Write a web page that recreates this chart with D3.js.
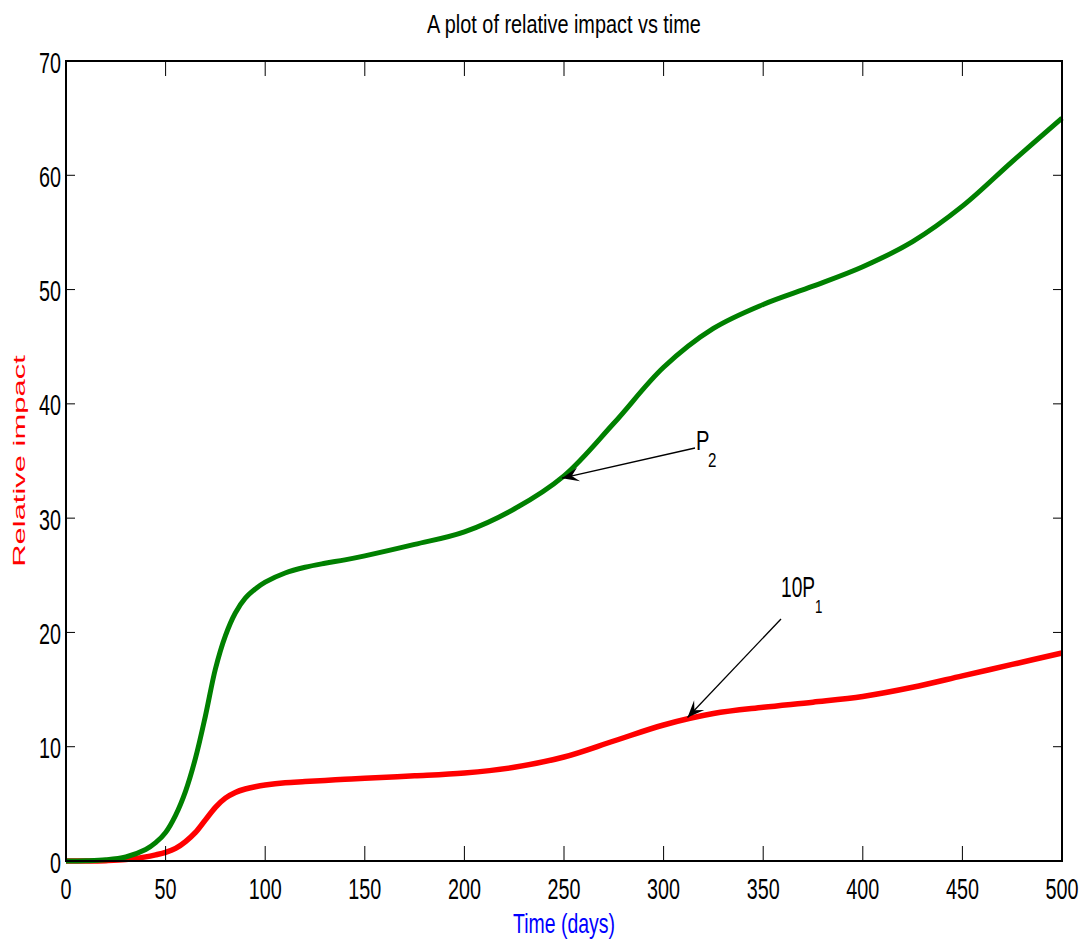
<!DOCTYPE html>
<html>
<head>
<meta charset="utf-8">
<script src="https://cdn.jsdelivr.net/npm/d3@7/dist/d3.min.js"></script>
<style>
  html, body { margin: 0; padding: 0; background: #fff; }
  svg { display: block; }
  text { font-family: "Liberation Sans", Arial, Helvetica, sans-serif; }
</style>
</head>
<body>
<svg id="chart" width="1088" height="945"></svg>
<script>
// Time points (days) shared by both series
const timeDays = [0, 10, 20, 30, 40, 45, 50, 55, 60, 65, 70, 75, 80, 85, 90, 95, 100,
  110, 120, 130, 140, 150, 175, 200, 225, 250, 275, 300, 325, 350, 375, 400,
  425, 450, 475, 500];

// P2 relative impact
const p2Values = [0, 0.02, 0.1, 0.35, 1.0, 1.6, 2.5, 4.0, 6.1, 9.0, 12.7, 16.8, 19.7,
  21.7, 23.0, 23.8, 24.4, 25.2, 25.7, 26.05, 26.35, 26.7, 27.7, 28.8, 30.8, 33.7,
  38.3, 43.2, 46.6, 48.7, 50.3, 52.0, 54.2, 57.3, 61.2, 65.0];

// 10 x P1 relative impact
const p1x10Values = [0, 0, 0.03, 0.12, 0.36, 0.54, 0.76, 1.1, 1.7, 2.5, 3.6, 4.7, 5.5,
  6.0, 6.3, 6.5, 6.65, 6.85, 6.95, 7.05, 7.15, 7.25, 7.45, 7.7, 8.2, 9.1, 10.5,
  11.9, 12.9, 13.45, 13.9, 14.4, 15.2, 16.2, 17.2, 18.2];

const xTicks = [0, 50, 100, 150, 200, 250, 300, 350, 400, 450, 500];
const yTicks = [0, 10, 20, 30, 40, 50, 60, 70];

const titleText = "A plot of relative impact vs time";
const xLabelText = "Time (days)";
const yLabelText = "Relative impact";

// Annotation targets: label, subscript, time of arrow tip, series
const annotations = [
  { label: "P", sub: "2", t: 249, series: "p2" },
  { label: "10P", sub: "1", t: 312, series: "p1" }
];

const svg = d3.select("#chart");
const plotLeft = 66, plotRight = 1062, plotTop = 61, plotBottom = 861;

const x = d3.scaleLinear().domain([0, 500]).range([plotLeft, plotRight]);
const y = d3.scaleLinear().domain([0, 70]).range([plotBottom, plotTop]);

// Condensed text helper: font-size sets height, sx squeezes width
function label(g, str, px, py, size, sx, anchor, fill, rot) {
  const t = g.append("g")
    .attr("transform", `translate(${px},${py})` + (rot ? ` rotate(${rot})` : "") + ` scale(${sx},1)`);
  return t.append("text")
    .attr("text-anchor", anchor || "start")
    .attr("font-size", size)
    .attr("fill", fill || "#000")
    .text(str);
}

// Curves
const series = {
  p2: timeDays.map((t, i) => [t, p2Values[i]]),
  p1: timeDays.map((t, i) => [t, p1x10Values[i]])
};
const line = d3.line().x(d => x(d[0])).y(d => y(d[1])).curve(d3.curveCatmullRom.alpha(0.5));

svg.append("path").datum(series.p1)
  .attr("d", line).attr("fill", "none")
  .attr("stroke", "#ff0000").attr("stroke-width", 5.5)
  .attr("stroke-linejoin", "round");
svg.append("path").datum(series.p2)
  .attr("d", line).attr("fill", "none")
  .attr("stroke", "#008000").attr("stroke-width", 5)
  .attr("stroke-linejoin", "round");

// Axes box with inward ticks on all four sides
const axisG = svg.append("g");
const xTickLen = 15, yTickLen = 9;
xTicks.forEach(v => {
  axisG.append("line").attr("x1", x(v)).attr("x2", x(v))
    .attr("y1", plotBottom).attr("y2", plotBottom - xTickLen)
    .attr("stroke", "#000").attr("stroke-width", 1);
  axisG.append("line").attr("x1", x(v)).attr("x2", x(v))
    .attr("y1", plotTop).attr("y2", plotTop + xTickLen)
    .attr("stroke", "#000").attr("stroke-width", 1);
  label(axisG, String(v), x(v), 899, 29.5, 0.67, "middle");
});
yTicks.forEach(v => {
  axisG.append("line").attr("x1", plotLeft).attr("x2", plotLeft + yTickLen)
    .attr("y1", y(v)).attr("y2", y(v))
    .attr("stroke", "#000").attr("stroke-width", 1);
  axisG.append("line").attr("x1", plotRight).attr("x2", plotRight - yTickLen)
    .attr("y1", y(v)).attr("y2", y(v))
    .attr("stroke", "#000").attr("stroke-width", 1);
  label(axisG, String(v), 61, y(v) + 11.5, 29.5, 0.67, "end");
});
axisG.append("rect")
  .attr("x", plotLeft).attr("y", plotTop)
  .attr("width", plotRight - plotLeft).attr("height", plotBottom - plotTop)
  .attr("fill", "none").attr("stroke", "#000").attr("stroke-width", 2);

// Title and axis labels
label(svg, titleText, 564, 33, 26.5, 0.75, "middle");
label(svg, xLabelText, 564, 933, 27, 0.72, "middle", "#0000ff");
svg.append("g")
  .attr("transform", `translate(25,${(plotTop + plotBottom) / 2}) rotate(-90) scale(1.8,1)`)
  .append("text")
  .attr("text-anchor", "middle")
  .attr("font-size", 17.2)
  .attr("fill", "#ff0000")
  .text(yLabelText);

// Arrow annotations
function interp(arr, t) {
  for (let i = 1; i < arr.length; i++) {
    if (t <= arr[i][0]) {
      const a = arr[i - 1], b = arr[i];
      const f = (t - a[0]) / (b[0] - a[0]);
      return a[1] + f * (b[1] - a[1]);
    }
  }
  return arr[arr.length - 1][1];
}
function arrow(g, x0, y0, x1, y1) {
  g.append("line").attr("x1", x0).attr("y1", y0).attr("x2", x1).attr("y2", y1)
    .attr("stroke", "#000").attr("stroke-width", 1.3);
  const ang = Math.atan2(y1 - y0, x1 - x0);
  const L = 17, W = 7, N = 10;
  const ux = Math.cos(ang), uy = Math.sin(ang);
  const px = -uy, py = ux;
  const pts = [
    [x1, y1],
    [x1 - L * ux + W * px, y1 - L * uy + W * py],
    [x1 - N * ux, y1 - N * uy],
    [x1 - L * ux - W * px, y1 - L * uy - W * py]
  ];
  g.append("polygon").attr("points", pts.map(p => p.join(",")).join(" "))
    .attr("fill", "#000");
}
const annG = svg.append("g");
// P2 label and arrow
{
  const a = annotations[0];
  const tipX = x(a.t), tipY = y(interp(series[a.series], a.t)) + 1;
  arrow(annG, 695, 448, tipX, tipY);
  label(annG, a.label, 696, 450, 28, 0.72, "start");
  label(annG, a.sub, 708, 467, 21, 0.72, "start");
}
// 10P1 label and arrow
{
  const a = annotations[1];
  const tipX = x(a.t), tipY = y(interp(series[a.series], a.t)) - 2;
  arrow(annG, 781, 619, tipX, tipY);
  label(annG, a.label, 781, 597, 29, 0.66, "start");
  label(annG, a.sub, 815, 613, 19, 0.7, "start");
}
</script>
</body>
</html>
